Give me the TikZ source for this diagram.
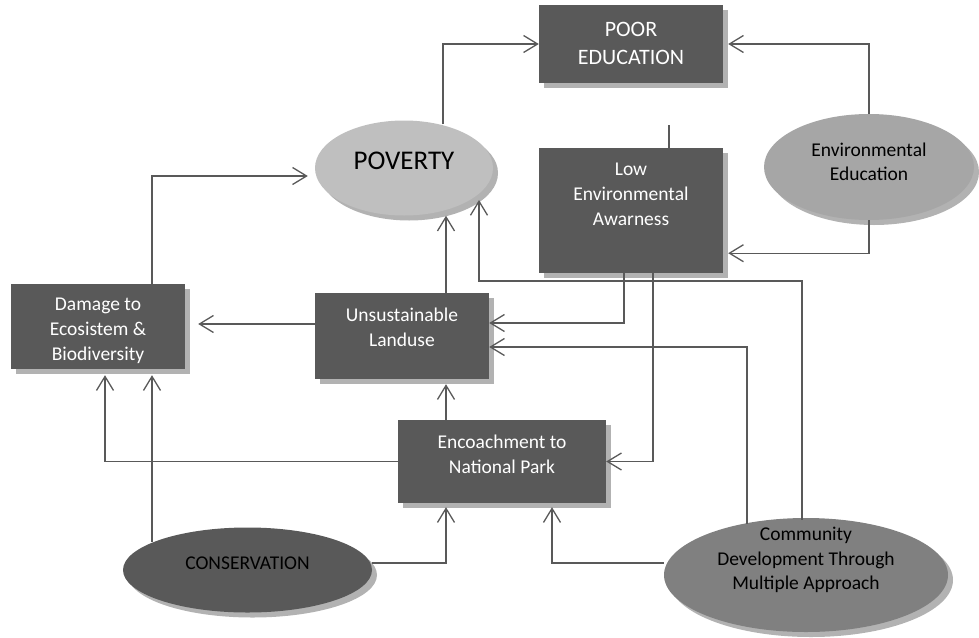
\documentclass[tikz,border=0pt]{standalone}
\usepackage{fontspec}
\setmainfont{Carlito}
\usepackage{tikz}
\usetikzlibrary{shapes,shadows,calc}
\usetikzlibrary{arrows.meta}
\usetikzlibrary{positioning}
\definecolor{boxgray}{HTML}{595959}
\definecolor{linegray}{HTML}{595959}
\definecolor{shadowgray}{HTML}{B2B2B2}
\definecolor{povertygray}{HTML}{BFBFBF}
\definecolor{envgray}{HTML}{A6A6A6}
\definecolor{communitygray}{HTML}{808080}

\begin{document}
\begin{tikzpicture}[x=1pt,y=-1pt]
    \tikzstyle{box}=[rectangle, fill=boxgray, inner sep=0pt,
      drop shadow={shadow xshift=5pt, shadow yshift=-5pt, fill=shadowgray, opacity=1}]
    \tikzstyle{oval}=[ellipse, inner sep=0pt,
      drop shadow={shadow xshift=5pt, shadow yshift=-5pt, fill=shadowgray, opacity=1}]
    \tikzstyle{boxtext}=[text=white, align=center, inner sep=0pt, node distance=15pt,
      font=\fontsize{19.5}{25}\selectfont]
    \tikzstyle{ovaltext}=[text=black, align=center, inner sep=0pt,
      font=\fontsize{19.5}{24.5}\selectfont]
    \tikzstyle{connect}=[-{Straight Barb[length=14pt,width=17pt]}, draw=linegray, line width=1.3pt]
    \tikzstyle{line}=[draw=linegray, line width=1.3pt]
    \useasboundingbox (0,0) rectangle (979,637);

      \node[box, minimum width=184, minimum height=78] (education) at (631,44) { };
      \node[box, minimum width=184, minimum height=125] (lowenv) at (631,210.5) { };
      \node[oval, fill=envgray, minimum width=210, minimum height=106] (enved) at (869,167) { };
      \node[oval, fill=povertygray, minimum width=178, minimum height=95] (poverty) at (404,168) { };
      \node[box, minimum width=174, minimum height=86] (unsust) at (402,336) { };
      \node[box, minimum width=174, minimum height=85] (damage) at (98,326.5) { };
      \node[box, minimum width=208, minimum height=83] (encroach) at (502,461.5) { };
      \node[oval, fill=boxgray, minimum width=249, minimum height=85] (conserv) at (247.5,570) { };
      \node[oval, fill=communitygray, minimum width=284, minimum height=114] (community) at (806,575) { };

      \node[boxtext, below=17pt of education.north, font=\fontsize{22}{28}\selectfont] (educationtext) {POOR\\EDUCATION};
      \node[boxtext, below=of lowenv.north] (lowenvtext) {Low\\Environmental\\Awarness};
      \node[boxtext, below=of unsust.north] (unsusttext) {Unsustainable\\Landuse};
      \node[boxtext, below=14pt of damage.north] (damagetext) {Damage to\\Ecosistem \&\\Biodiversity};
      \node[boxtext, below=of encroach.north] (encroachtext) {Encoachment to\\National Park};
      \node[ovaltext, font=\fontsize{27}{32}\selectfont] (povertytext) at ([yshift=7pt]poverty.center) {POVERTY};
      \node[ovaltext] (envedtext) at ([yshift=5pt]enved.center) {Environmental\\Education};
      \node[ovaltext] (conservtext) at ([yshift=7pt]conserv.center) {CONSERVATION};
      \node[ovaltext] (communitytext) at ([yshift=15pt]community.center) {Community\\Development Through\\Multiple Approach};

      \coordinate (stub) at (669,125);
      \coordinate (upv) at ([xshift=44pt]unsust.north);
      \coordinate (uw) at ([yshift=12pt]unsust.west);

      \draw[line] (lowenv.north -| stub) -- (stub);
      \draw[connect] ([xshift=39pt,yshift=-4pt]poverty.north) |- (education.west);
      \draw[connect] (enved.north) |- ([xshift=5pt]education.east);
      \draw[connect] (enved.south) |- ([xshift=5pt,yshift=20pt]lowenv.south east);
      \draw[connect] ([xshift=54pt]damage.north) |- ([xshift=-7pt,yshift=-8pt]poverty.west);
      \draw[connect] (upv) -- (upv |- poverty.south);
      \draw[connect] ([xshift=-4pt,yshift=-2pt]community.north) |- (479,281) -- ([xshift=75pt,yshift=-32pt]poverty.center);
      \draw[connect] ([xshift=-7pt]lowenv.south) |- ([yshift=13pt]unsust.east);
      \draw[connect] ([xshift=-59pt,yshift=-6pt]community.north) |- ([yshift=-11pt]unsust.east);
      \draw[connect] ([xshift=22pt]lowenv.south) |- (encroach.east);
      \draw[connect] ([yshift=12pt]community.west) -| ([xshift=50pt,yshift=-4pt]encroach.south);
      \draw[connect] (uw) -- ($(uw -| damage.east)+(13,0)$);
      \draw[connect] (encroach.west) -| ([xshift=7pt,yshift=-6pt]damage.south);
      \draw[connect] ([xshift=-95.5pt,yshift=-15pt]conserv.north) -- ([xshift=54pt,yshift=-6pt]damage.south);
      \draw[connect] ([yshift=7pt]conserv.east) -| ([xshift=-56pt,yshift=-4pt]encroach.south);
      \draw[connect] ([xshift=-56pt]encroach.north) -- ([xshift=44pt,yshift=-5pt]unsust.south);
\end{tikzpicture}
\end{document}
